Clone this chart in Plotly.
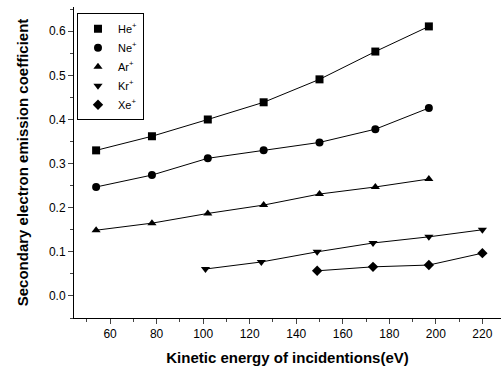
import plotly.graph_objects as go

x_he = [54, 78, 102, 126, 150, 174, 197]
y_he = [0.330, 0.362, 0.400, 0.439, 0.491, 0.554, 0.611]
x_ne = [54, 78, 102, 126, 150, 174, 197]
y_ne = [0.247, 0.274, 0.312, 0.330, 0.348, 0.378, 0.426]
x_ar = [54, 78, 102, 126, 150, 174, 197]
y_ar = [0.149, 0.165, 0.187, 0.206, 0.231, 0.247, 0.265]
x_kr = [101, 125, 149, 173, 197, 220]
y_kr = [0.061, 0.077, 0.100, 0.120, 0.134, 0.150]
x_xe = [149, 173, 197, 220]
y_xe = [0.057, 0.066, 0.070, 0.097]
names = ["He<sup>+</sup>", "Ne<sup>+</sup>", "Ar<sup>+</sup>", "Kr<sup>+</sup>", "Xe<sup>+</sup>"]
symbols = ["square", "circle", "triangle-up", "triangle-down", "diamond"]
xticks = [60, 80, 100, 120, 140, 160, 180, 200, 220]
yticks = [0.0, 0.1, 0.2, 0.3, 0.4, 0.5, 0.6]
yticktext = ["0.0", "0.1", "0.2", "0.3", "0.4", "0.5", "0.6"]

fig = go.Figure()
series = list(zip([x_he, x_ne, x_ar, x_kr, x_xe], [y_he, y_ne, y_ar, y_kr, y_xe], names, symbols))
for xs, ys, n, s in series:
    fig.add_trace(go.Scatter(x=xs, y=ys, mode="lines", showlegend=False, hoverinfo="skip",
                             line=dict(color="black", width=1)))
for xs, ys, n, s in series:
    fig.add_trace(go.Scatter(x=xs, y=ys, name=n, mode="markers",
                             marker=dict(symbol=s, size=8, color="black")))

axis_common = dict(showgrid=False, zeroline=False, showline=True, linecolor="black", linewidth=1)
fig.update_layout(
    width=501, height=376,
    margin=dict(l=74, r=0, t=7, b=58),
    paper_bgcolor="white", plot_bgcolor="white",
    font=dict(family="Arial, Liberation Sans", color="black", size=12),
    showlegend=True,
    legend=dict(x=0.007, y=0.98, xanchor="left", yanchor="top",
                bordercolor="black", borderwidth=1, bgcolor="white",
                font=dict(size=11, family="Arial, Liberation Sans"),
                tracegroupgap=0, itemwidth=30),
    xaxis=dict(range=[44.5, 228], tickvals=xticks, ticks="outside", ticklen=5,
               minor=dict(ticks="outside", ticklen=3, dtick=10),
               title=dict(text="<b>Kinetic energy of incidentions(eV)</b>", font=dict(size=15), standoff=12),
               **axis_common),
    yaxis=dict(range=[-0.05, 0.655], tickvals=yticks, ticktext=yticktext,
               ticks="outside", ticklen=5,
               minor=dict(ticks="outside", ticklen=3, dtick=0.05),
               title=dict(text="<b>Secondary electron emission coefficient</b>", font=dict(size=15), standoff=16),
               **axis_common),
    xaxis2=dict(overlaying="x", side="top", matches="x", range=[44.5, 228], tickvals=xticks,
                ticks="inside", ticklen=5, showticklabels=False,
                minor=dict(ticks="inside", ticklen=3, dtick=10), **axis_common),
    yaxis2=dict(overlaying="y", side="right", matches="y", range=[-0.05, 0.655], tickvals=yticks,
                ticks="inside", ticklen=5, showticklabels=False,
                minor=dict(ticks="inside", ticklen=3, dtick=0.05), **axis_common),
)
fig.write_html("out.html")
